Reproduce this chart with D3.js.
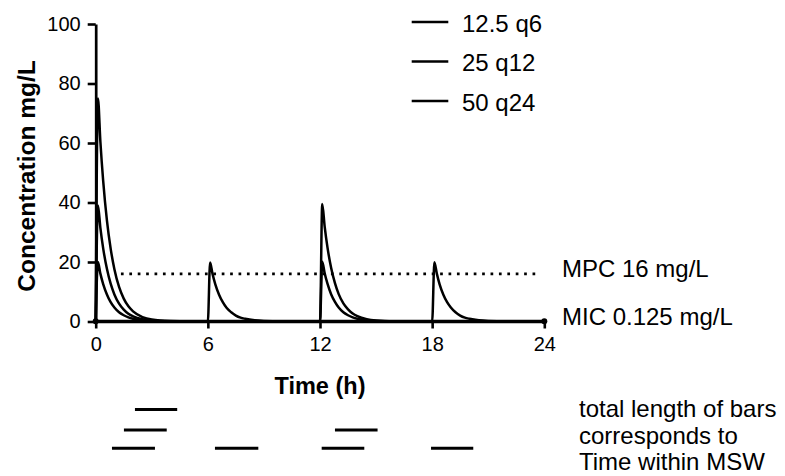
<!DOCTYPE html>
<html>
<head>
<meta charset="utf-8">
<script src="https://cdn.jsdelivr.net/npm/d3@7"></script>
<style>
  html, body { margin: 0; padding: 0; background: #fff; }
  svg { display: block; font-family: "Liberation Sans", Arial, Helvetica, sans-serif; }
</style>
</head>
<body>
<svg id="chart" width="785" height="476"></svg>
<script>
// Regimen labels (dose mg/kg and dosing interval)
const regimens = ["12.5 q6", "25 q12", "50 q24"];

// Concentration–time samples, 12.5 q6
const hours12q6 = [
  0, 0.12, 0.25, 0.4, 0.6, 0.8, 1, 1.25, 1.5, 1.75, 2, 2.5, 3, 4, 5,
  6, 6.12, 6.25, 6.4, 6.6, 6.8, 7, 7.25, 7.5, 7.75, 8, 8.5, 9, 10, 11,
  12, 12.12, 12.25, 12.4, 12.6, 12.8, 13, 13.25, 13.5, 13.75, 14, 14.5, 15, 16, 17,
  18, 18.12, 18.25, 18.4, 18.6, 18.8, 19, 19.25, 19.5, 19.75, 20, 20.5, 21, 22, 23,
  24
];
const conc12q6 = [
  0, 20.0, 16.1, 12.6, 9.1, 6.5, 4.7, 3.1, 2.1, 1.4, 0.9, 0.4, 0.17, 0.03, 0.01,
  0, 19.8, 16.0, 12.5, 9.0, 6.5, 4.6, 3.1, 2.0, 1.3, 0.9, 0.39, 0.17, 0.03, 0.01,
  0, 20.1, 16.2, 12.7, 9.1, 6.6, 4.7, 3.1, 2.1, 1.4, 0.9, 0.4, 0.17, 0.03, 0.01,
  0, 19.9, 16.1, 12.5, 9.0, 6.5, 4.7, 3.1, 2.0, 1.3, 0.9, 0.39, 0.17, 0.03, 0.01,
  0
];

// Concentration–time samples, 25 q12
const hours25q12 = [
  0, 0.12, 0.25, 0.4, 0.6, 0.8, 1, 1.25, 1.5, 1.75, 2, 2.5, 3, 4, 5,
  12, 12.12, 12.25, 12.4, 12.6, 12.8, 13, 13.25, 13.5, 13.75, 14, 14.5, 15, 16, 17,
  24
];
const conc25q12 = [
  0, 39.0, 31.5, 24.6, 17.7, 12.7, 9.1, 6.0, 4.0, 2.6, 1.75, 0.77, 0.34, 0.07, 0.01,
  0, 39.5, 31.9, 24.9, 17.9, 12.9, 9.2, 6.1, 4.1, 2.7, 1.8, 0.78, 0.34, 0.07, 0.01,
  0
];

// Concentration–time samples, 50 q24
const hours50q24 = [0, 0.12, 0.25, 0.4, 0.6, 0.8, 1, 1.25, 1.5, 1.75, 2, 2.5, 3, 4, 5, 24];
const conc50q24  = [0, 75.0, 60.5, 47.3, 34.0, 24.5, 17.6, 11.6, 7.7, 5.1, 3.4, 1.5, 0.65, 0.13, 0.02, 0];

// Reference concentrations (mg/L)
const mpcValue = 16;
const micValue = 0.125;

// Axis ticks
const xTicks = [0, 6, 12, 18, 24];
const yTicks = [0, 20, 40, 60, 80, 100];

// Intervals (h) spent within the mutant selection window, one row per regimen
const msw12q6  = [[0.87, 3.17], [6.38, 8.70], [12.09, 14.37], [17.94, 20.20]];
const msw25q12 = [[1.51, 3.80], [12.80, 15.08]];
const msw50q24 = [[2.10, 4.36]];

const noteLines = ["total length of bars", "corresponds to", "Time within MSW"];

// ---------------------------------------------------------------------------
const svg = d3.select("#chart");
const ink = "#000";

const x = d3.scaleLinear().domain([0, 24]).range([95.7, 544.3]);
const y = d3.scaleLinear().domain([0, 100]).range([321.5, 24]);

const series = [
  { name: regimens[0], t: hours12q6, c: conc12q6 },
  { name: regimens[1], t: hours25q12, c: conc25q12 },
  { name: regimens[2], t: hours50q24, c: conc50q24 }
];

const line = d3.line()
  .x(d => x(d[0]))
  .y(d => y(d[1]))
  .curve(d3.curveMonotoneX);

// MPC dotted reference line
svg.append("line")
  .attr("x1", x(1.35)).attr("x2", x(23.8))
  .attr("y1", y(mpcValue)).attr("y2", y(mpcValue))
  .attr("stroke", ink)
  .attr("stroke-width", 2.7)
  .attr("stroke-dasharray", "2.7 5.7");

// Concentration curves
svg.append("g")
  .selectAll("path")
  .data(series)
  .join("path")
  .attr("d", s => line(s.t.map((t, i) => [t, s.c[i]])))
  .attr("fill", "none")
  .attr("stroke", ink)
  .attr("stroke-width", 2.5)
  .attr("stroke-linejoin", "round");

// Axes
const yAxis = svg.append("g")
  .attr("transform", `translate(${x(0)},0)`)
  .call(d3.axisLeft(y).tickValues(yTicks).tickSize(8).tickSizeOuter(0).tickPadding(7));
const xAxis = svg.append("g")
  .attr("transform", `translate(0,${y(0)})`)
  .call(d3.axisBottom(x).tickValues(xTicks).tickSize(7).tickSizeOuter(0).tickPadding(8));

[yAxis, xAxis].forEach(g => {
  g.select(".domain").attr("stroke", ink).attr("stroke-width", 2.7);
  g.selectAll(".tick line").attr("stroke", ink).attr("stroke-width", 2.6);
  g.selectAll(".tick text")
    .attr("fill", ink)
    .style("font-size", "20px")
    .style("font-family", "'Liberation Sans', Arial, sans-serif");
});

// MIC line with end markers
svg.append("line")
  .attr("x1", x(0)).attr("x2", x(24))
  .attr("y1", y(micValue)).attr("y2", y(micValue))
  .attr("stroke", ink).attr("stroke-width", 2.6);
svg.append("g")
  .selectAll("circle")
  .data([0, 24])
  .join("circle")
  .attr("cx", d => x(d))
  .attr("cy", y(micValue))
  .attr("r", 3)
  .attr("fill", ink);

// Reference line labels
svg.append("text")
  .attr("x", 562).attr("y", y(mpcValue) + 3)
  .style("font-size", "24px").attr("fill", ink)
  .text(`MPC ${mpcValue} mg/L`);
svg.append("text")
  .attr("x", 562).attr("y", y(micValue) + 4)
  .style("font-size", "24px").attr("fill", ink)
  .text(`MIC ${micValue} mg/L`);

// Axis titles
svg.append("text")
  .attr("transform", "translate(35,176) rotate(-90)")
  .attr("text-anchor", "middle")
  .style("font-size", "24.5px").style("font-weight", "bold")
  .attr("fill", ink)
  .text("Concentration mg/L");
svg.append("text")
  .attr("x", x(12)).attr("y", 393.5)
  .attr("text-anchor", "middle")
  .style("font-size", "23.5px").style("font-weight", "bold")
  .attr("fill", ink)
  .text("Time (h)");

// Legend
const legend = svg.append("g")
  .selectAll("g")
  .data(regimens)
  .join("g")
  .attr("transform", (d, i) => `translate(0,${22 + i * 39.5})`);
legend.append("line")
  .attr("x1", 411.7).attr("x2", 448.3)
  .attr("stroke", ink).attr("stroke-width", 2.6);
legend.append("text")
  .attr("x", 462).attr("y", 9.7)
  .style("font-size", "24px").attr("fill", ink)
  .text(d => d);

// MSW bars
const bandRows = [
  { y: 409.5, spans: msw50q24 },
  { y: 430,   spans: msw25q12 },
  { y: 448.3, spans: msw12q6 }
];
svg.append("g")
  .selectAll("line")
  .data(bandRows.flatMap(r => r.spans.map(s => ({ y: r.y, s }))))
  .join("line")
  .attr("x1", d => x(d.s[0])).attr("x2", d => x(d.s[1]))
  .attr("y1", d => d.y).attr("y2", d => d.y)
  .attr("stroke", ink).attr("stroke-width", 2.9);

// Note text
svg.append("g")
  .selectAll("text")
  .data(noteLines)
  .join("text")
  .attr("x", 579)
  .attr("y", (d, i) => 416.7 + i * 26.8)
  .style("font-size", "24px").attr("fill", ink)
  .text(d => d);
</script>
</body>
</html>
